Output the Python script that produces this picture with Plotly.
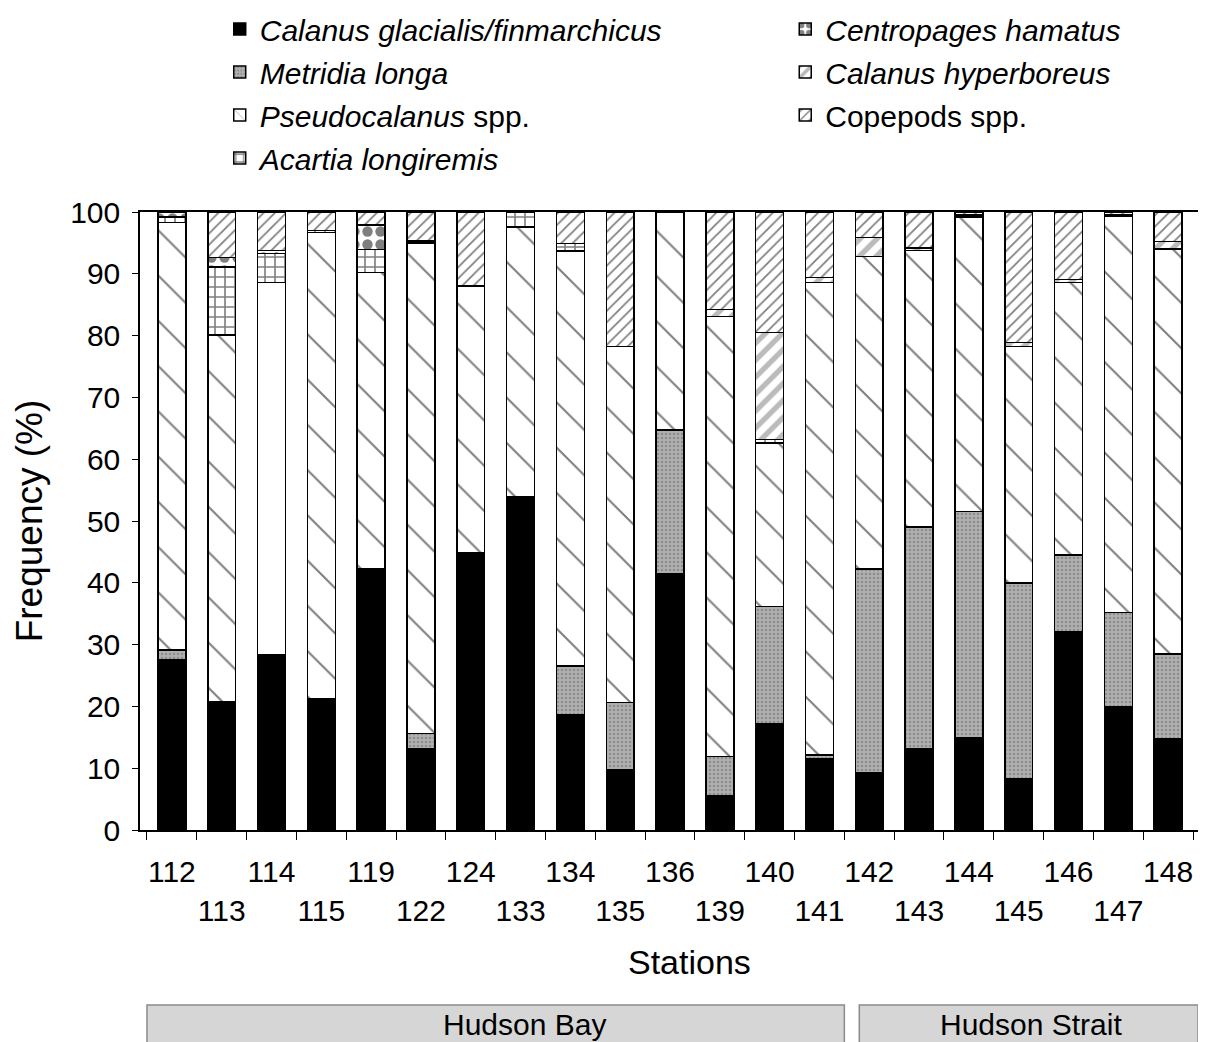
import plotly.graph_objects as go

stations = ["112", "113", "114", "115", "119", "122", "124", "133", "134", "135", "136",
            "139", "140", "141", "142", "143", "144", "145", "146", "147", "148"]

calanus_gf = [27.5, 20.8, 28.3, 21.2, 42.2, 13.1, 44.8, 54.0, 18.7, 9.7, 41.5,
              5.5, 17.2, 11.6, 9.3, 13.1, 15.0, 8.3, 32.0, 20.0, 14.8]
metridia = [1.6, 0.0, 0.0, 0.0, 0.0, 2.5, 0.0, 0.0, 7.8, 10.9, 23.2,
            6.4, 19.0, 0.5, 32.9, 35.9, 36.5, 31.7, 12.5, 15.2, 13.7]
pseudocalanus = [69.2, 59.3, 60.3, 75.5, 48.0, 79.4, 43.2, 43.6, 67.2, 57.6, 35.3,
                 71.2, 26.4, 76.5, 50.6, 44.8, 47.7, 38.2, 44.1, 64.1, 65.5]
acartia = [0.9, 11.0, 4.7, 0.3, 3.7, 0.0, 0.0, 2.4, 1.2, 0.0, 0.0,
           0.0, 0.6, 0.0, 0.0, 0.0, 0.0, 0.0, 0.0, 0.0, 0.0]
centropages = [0.8, 1.5, 0.5, 0.0, 4.0, 0.0, 0.0, 0.0, 0.0, 0.0, 0.0,
               0.0, 0.0, 0.0, 0.0, 0.0, 0.0, 0.0, 0.0, 0.0, 0.0]
calanus_hyp = [0.0, 0.0, 0.0, 0.0, 0.0, 0.3, 0.0, 0.0, 0.0, 0.0, 0.0,
               1.1, 17.3, 0.8, 3.1, 0.4, 0.3, 0.7, 0.5, 0.2, 1.2]
copepods = [0.0, 7.4, 6.2, 3.0, 2.1, 4.7, 12.0, 0.0, 5.1, 21.8, 0.0,
            15.8, 19.5, 10.6, 4.1, 5.8, 0.5, 21.1, 10.9, 0.5, 4.8]

y_ticks = [0, 10, 20, 30, 40, 50, 60, 70, 80, 90, 100]
regions = ["Hudson Bay", "Hudson Strait"]
region_first = ["112", "142"]
region_last = ["141", "148"]

FONT = "Liberation Sans, Arial, sans-serif"
xs = list(range(len(stations)))
ticktext = [s if i % 2 == 0 else "<br>" + s for i, s in enumerate(stations)]

series = [
    ("<i>Calanus glacialis/finmarchicus</i>", calanus_gf,
     dict(color="black", pattern=dict(shape="")), "legend", 1),
    ("<i>Metridia longa</i>", metridia,
     dict(color="#b0b0b0", pattern=dict(shape=".", fgcolor="#6a6a6a", size=4, solidity=0.35)), "legend", 2),
    ("<i>Pseudocalanus</i> spp.", pseudocalanus,
     dict(color="white", pattern=dict(shape=["" if s == "114" else "\\" for s in stations],
                                       fgcolor="black", bgcolor="white", size=32, solidity=0.065)), "legend", 3),
    ("<i>Acartia longiremis</i>", acartia,
     dict(color="white", pattern=dict(shape="+", fgcolor="black", bgcolor="white", size=10, solidity=0.3)), "legend", 4),
    ("<i>Centropages hamatus</i>", centropages,
     dict(color="white", pattern=dict(shape=".", fgcolor="black", bgcolor="white", size=13, solidity=0.5)), "legend2", 1),
    ("<i>Calanus hyperboreus</i>", calanus_hyp,
     dict(color="white", pattern=dict(shape="/", fgcolor="#777777", bgcolor="white", size=12, solidity=0.45)), "legend2", 2),
    ("Copepods spp.", copepods,
     dict(color="white", pattern=dict(shape="/", fgcolor="black", bgcolor="white", size=8, solidity=0.22)), "legend2", 3),
]

fig = go.Figure()
for name, vals, marker, leg, rank in series:
    m = dict(marker)
    m["line"] = dict(color="black", width=1.5)
    fig.add_trace(go.Bar(x=xs, y=vals, name=name, marker=m, legend=leg,
                         legendrank=rank, legendgroup=name))

idx = {s: i for i, s in enumerate(stations)}
shapes = []
annotations = []
box_offs = [(-0.5, 0.5), (-0.2, 0.6)]
text_offs = [0.58, 0.04]
for r, a, b, (o0, o1), to in zip(regions, region_first, region_last, box_offs, text_offs):
    x0 = idx[a] + o0
    x1 = idx[b] + o1
    shapes.append(dict(type="rect", xref="x", yref="paper", x0=x0, x1=x1, y0=-0.36, y1=-0.283,
                       fillcolor="#d6d6d6", line=dict(color="#8a8a8a", width=1.5), layer="above"))
    annotations.append(dict(x=(x0 + x1) / 2 + to, y=-0.314, xref="x", yref="paper", text=r,
                            showarrow=False, font=dict(size=30, color="black", family=FONT),
                            xanchor="center", yanchor="middle"))

annotations.append(dict(x=0.517, y=-0.2136, xref="paper", yref="paper", text="Stations",
                        showarrow=False, font=dict(size=34, color="black", family=FONT),
                        xanchor="center", yanchor="middle"))

fig.update_layout(
    barmode="stack",
    bargap=0.44,
    width=1198, height=1034,
    margin=dict(l=132, r=3, t=204, b=212, autoexpand=False),
    paper_bgcolor="white", plot_bgcolor="white",
    font=dict(family=FONT, size=30, color="black"),
    shapes=shapes,
    annotations=annotations,
    legend=dict(x=0.075, y=1.338, xanchor="left", yanchor="top", orientation="v",
                font=dict(size=30, family=FONT), tracegroupgap=1, itemwidth=30,
                bgcolor="rgba(0,0,0,0)"),
    legend2=dict(x=0.607, y=1.338, xanchor="left", yanchor="top", orientation="v",
                 font=dict(size=30, family=FONT), tracegroupgap=1, itemwidth=30,
                 bgcolor="rgba(0,0,0,0)"),
    xaxis=dict(range=[-0.64, 20.7], tickmode="array", tickvals=xs, ticktext=ticktext,
               tickangle=0, ticks="", ticklabelstandoff=14,
               showgrid=False, zeroline=False, showline=True, linecolor="black",
               linewidth=1.5, mirror=True, tickfont=dict(size=30, family=FONT),
               minor=dict(tickmode="linear", tick0=-0.5, dtick=1, ticks="outside",
                          ticklen=8, tickcolor="black", tickwidth=1.2, showgrid=False)),
    yaxis=dict(range=[0, 100], tickmode="array", tickvals=y_ticks, ticks="outside",
               ticklen=6, tickcolor="black", ticklabelstandoff=6,
               showgrid=False, zeroline=False, showline=True,
               linecolor="black", linewidth=1.5, mirror=True,
               tickfont=dict(size=30, family=FONT),
               title=dict(text="Frequency (%)", font=dict(size=37, family=FONT), standoff=16)),
)

fig.write_html("out.html")
